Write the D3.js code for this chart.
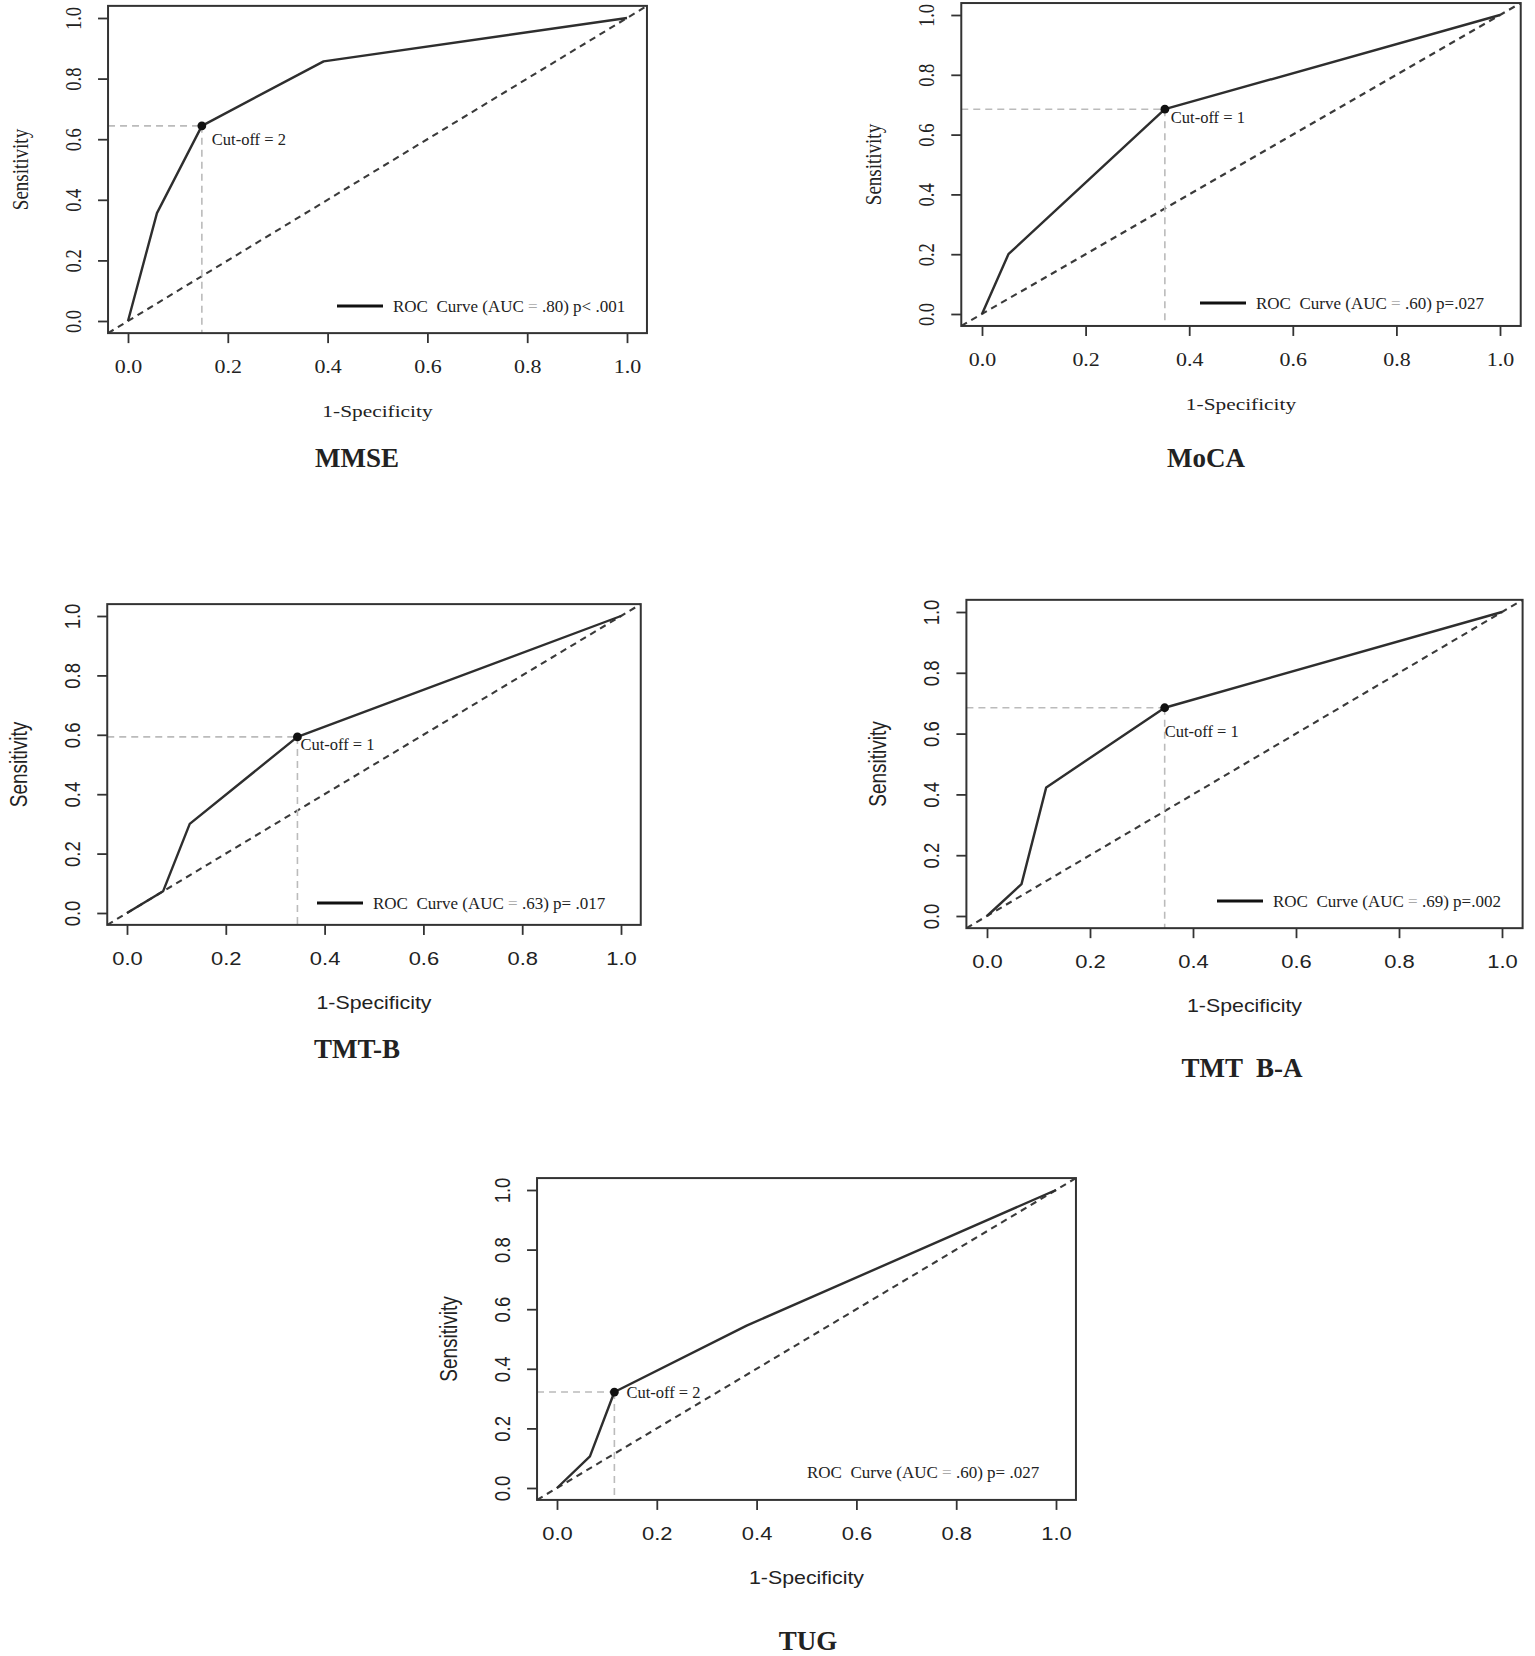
<!DOCTYPE html>
<html>
<head>
<meta charset="utf-8">
<script src="https://cdn.jsdelivr.net/npm/d3@7"></script>
<style>
  body { margin: 0; background: #fff; }
  svg { display: block; }
  text { fill: #222; }
</style>
</head>
<body>
<div id="chart"></div>
<script>
// ---- data ----
const titles = ["MMSE", "MoCA", "TMT-B", "TMT  B-A", "TUG"];

const mmseFpr = [0, 0.058, 0.148, 0.392, 1];
const mmseTpr = [0, 0.356, 0.644, 0.857, 1];
const mocaFpr = [0, 0.051, 0.353, 1];
const mocaTpr = [0, 0.200, 0.685, 1];
const tmtbFpr = [0, 0.073, 0.127, 0.345, 1];
const tmtbTpr = [0, 0.073, 0.300, 0.593, 1];
const tmtbaFpr = [0, 0.067, 0.115, 0.345, 1];
const tmtbaTpr = [0, 0.105, 0.423, 0.685, 1];
const tugFpr = [0, 0.066, 0.115, 0.380, 1];
const tugTpr = [0, 0.106, 0.322, 0.545, 1];

const cutoffFpr = [0.148, 0.353, 0.345, 0.345, 0.115];
const cutoffTpr = [0.644, 0.685, 0.593, 0.685, 0.322];
const cutoffText = ["Cut-off = 2", "Cut-off = 1", "Cut-off = 1", "Cut-off = 1", "Cut-off = 2"];

const aucText = [".80", ".60", ".63", ".69", ".60"];
const pText = ["p< .001", "p=.027", "p= .017", "p=.002", "p= .027"];

const tickValues = [0, 0.2, 0.4, 0.6, 0.8, 1.0];
const xLabel = "1-Specificity";
const yLabel = "Sensitivity";

// ---- layout (pixels) ----
const serif = "'Liberation Serif', 'Times New Roman', serif";
const sans = "'Liberation Sans', Arial, Helvetica, sans-serif";
const stretch = 1.22; // plot images were widened in the source

const layout = [
    {x0: 128, x1: 627,  y0: 321,  y1: 18,   font: serif, cut: [10, 19], leg: [337, 306], legLine: true,  title: [357, 467]},
    {x0: 982, x1: 1500, y0: 314,  y1: 15,   font: serif, cut: [6, 14],  leg: [1200, 303], legLine: true, title: [1206, 467]},
    {x0: 127, x1: 621,  y0: 913,  y1: 616,  font: sans,  cut: [3, 13],  leg: [317, 903], legLine: true,  title: [357, 1058]},
    {x0: 987, x1: 1502, y0: 916,  y1: 612,  font: sans,  cut: [0, 29],  leg: [1217, 901], legLine: true, title: [1242, 1077]},
    {x0: 557, x1: 1056, y0: 1488, y1: 1190, font: sans,  cut: [12, 6],  leg: [807, 1478], legLine: false, title: [808, 1650]}
];

const curves = [
    [mmseFpr, mmseTpr],
    [mocaFpr, mocaTpr],
    [tmtbFpr, tmtbTpr],
    [tmtbaFpr, tmtbaTpr],
    [tugFpr, tugTpr]
];

const root = d3.select('#chart').append('svg')
    .attr('width', 1535)
    .attr('height', 1656)
    .attr('viewBox', '0 0 1535 1656');

root.append('rect')
    .attr('width', 1535)
    .attr('height', 1656)
    .attr('fill', '#fff');

function drawPanel(i) {
    const L = layout[i];
    const x = d3.scaleLinear().domain([0, 1]).range([L.x0, L.x1]);
    const y = d3.scaleLinear().domain([0, 1]).range([L.y0, L.y1]);
    const lo = -0.04, hi = 1.04;
    const g = root.append('g').attr('class', 'panel');

    // axes
    const xAxis = g.append('g')
        .attr('transform', 'translate(0,' + y(lo) + ')')
        .call(d3.axisBottom(x).tickValues(tickValues).tickFormat(d3.format('.1f')).tickSize(10));
    xAxis.select('.domain').remove();
    xAxis.selectAll('line').attr('stroke', '#333').attr('stroke-width', 1.8);
    xAxis.selectAll('text')
        .attr('y', 40)
        .attr('dy', null)
        .attr('transform', 'scale(' + stretch + ',1)')
        .style('font-family', L.font)
        .style('font-size', '18px')
        .attr('fill', '#222');

    const yAxis = g.append('g')
        .attr('transform', 'translate(' + x(lo) + ',0)')
        .call(d3.axisLeft(y).tickValues(tickValues).tickFormat(d3.format('.1f')).tickSize(10));
    yAxis.select('.domain').remove();
    yAxis.selectAll('line').attr('stroke', '#333').attr('stroke-width', 1.8);
    yAxis.selectAll('text')
        .attr('x', null)
        .attr('dy', null)
        .attr('text-anchor', 'middle')
        .attr('transform', 'translate(-27,0) scale(' + stretch + ',1) rotate(-90)')
        .style('font-family', L.font)
        .style('font-size', '18.5px')
        .attr('fill', '#222');

    // axis titles
    g.append('text')
        .attr('text-anchor', 'middle')
        .attr('transform', 'translate(' + x(0.5) + ',' + (y(lo) + 84) + ') scale(' + stretch + ',1)')
        .style('font-family', L.font)
        .style('font-size', '17.5px')
        .text(xLabel);
    g.append('text')
        .attr('text-anchor', 'middle')
        .attr('transform', 'translate(' + (x(lo) - 80) + ',' + y(0.5) + ') scale(' + stretch + ',1) rotate(-90)')
        .style('font-family', L.font)
        .style('font-size', '19px')
        .text(yLabel);

    // chance line
    g.append('line')
        .attr('x1', x(lo)).attr('y1', y(lo))
        .attr('x2', x(hi)).attr('y2', y(hi))
        .attr('stroke', '#3a3a3a')
        .attr('stroke-width', 2.1)
        .attr('stroke-dasharray', '6.5,5');

    // guide lines to cut-off point
    const cx = cutoffFpr[i], cy = cutoffTpr[i];
    g.append('line')
        .attr('x1', x(lo)).attr('y1', y(cy))
        .attr('x2', x(cx)).attr('y2', y(cy))
        .attr('stroke', '#bbb')
        .attr('stroke-width', 1.6)
        .attr('stroke-dasharray', '7,5');
    g.append('line')
        .attr('x1', x(cx)).attr('y1', y(cy))
        .attr('x2', x(cx)).attr('y2', y(lo))
        .attr('stroke', '#bbb')
        .attr('stroke-width', 1.6)
        .attr('stroke-dasharray', '7,5');

    // ROC curve
    const pts = curves[i][0].map((v, k) => [v, curves[i][1][k]]);
    const line = d3.line()
        .x(d => x(d[0]))
        .y(d => y(d[1]));
    g.append('path')
        .datum(pts)
        .attr('d', line)
        .attr('fill', 'none')
        .attr('stroke', '#2e2e2e')
        .attr('stroke-width', 2.4)
        .attr('stroke-linejoin', 'round');

    // box
    g.append('rect')
        .attr('x', x(lo))
        .attr('y', y(hi))
        .attr('width', x(hi) - x(lo))
        .attr('height', y(lo) - y(hi))
        .attr('fill', 'none')
        .attr('stroke', '#333')
        .attr('stroke-width', 2);

    // cut-off point + label
    g.append('circle')
        .attr('cx', x(cx))
        .attr('cy', y(cy))
        .attr('r', 4.4)
        .attr('fill', '#111');
    g.append('text')
        .attr('x', x(cx) + L.cut[0])
        .attr('y', y(cy) + L.cut[1])
        .style('font-family', serif)
        .style('font-size', '16.5px')
        .text(cutoffText[i]);

    // legend
    let tx = L.leg[0];
    if (L.legLine) {
        g.append('line')
            .attr('x1', L.leg[0]).attr('x2', L.leg[0] + 46)
            .attr('y1', L.leg[1]).attr('y2', L.leg[1])
            .attr('stroke', '#111')
            .attr('stroke-width', 2.8);
        tx = L.leg[0] + 56;
    }
    const lt = g.append('text')
        .attr('x', tx)
        .attr('y', L.legLine ? L.leg[1] + 6 : L.leg[1])
        .style('font-family', serif)
        .style('font-size', '17px')
        .style('white-space', 'pre');
    lt.append('tspan').text('ROC  Curve (AUC ');
    lt.append('tspan').attr('fill', '#aaa').text('=');
    lt.append('tspan').text(' ' + aucText[i] + ') ' + pText[i]);

    // panel title
    root.append('text')
        .attr('x', L.title[0])
        .attr('y', L.title[1])
        .attr('text-anchor', 'middle')
        .style('font-family', serif)
        .style('font-weight', 'bold')
        .style('font-size', '27px')
        .style('white-space', 'pre')
        .attr('fill', '#111')
        .text(titles[i]);
}

titles.forEach((t, i) => drawPanel(i));
</script>
</body>
</html>
